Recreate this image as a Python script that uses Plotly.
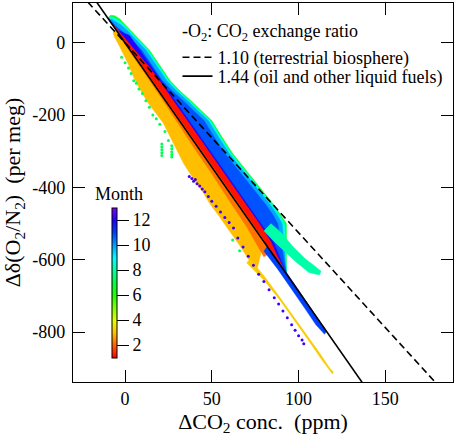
import plotly.graph_objects as go
from plotly.colors import sample_colorscale

# rainbow colour table, month 1 (red) -> 13 (violet)
RAINBOW = ["rgb(255,0,0)", "rgb(255,96,0)", "rgb(255,191,0)", "rgb(223,255,0)",
           "rgb(128,255,0)", "rgb(32,255,0)", "rgb(0,255,64)", "rgb(0,255,159)",
           "rgb(0,255,255)", "rgb(0,159,255)", "rgb(0,64,255)", "rgb(32,0,255)",
           "rgb(128,0,255)"]
CMIN, CMAX = 1, 13
colorscale = [[i / (len(RAINBOW) - 1), c] for i, c in enumerate(RAINBOW)]

FONT = "Times New Roman, Liberation Serif, serif"

# exchange ratios for the reference lines, O2 mole fraction of air
RATIOS = [1.10, 1.44]
RATIO_NAMES = ["1.10 (terrestrial biosphere)", "1.44 (oil and other liquid fuels)"]
RATIO_DASH = ["7px,4px", "solid"]
RATIO_LEGEND = ["legend", "legend2"]
X_O2 = 0.2095
LINE_X = [-30, 190]

# axis ticks
X_TICKS = [0, 50, 100, 150]
Y_TICKS = [-800, -600, -400, -200, 0]
CB_TICKS = [2, 4, 6, 8, 10, 12]

# outlines of the dense point cloud, upper side, top-left -> bottom-right
green_x = [-8.5, -6, -3, 0, 3, 8, 14, 20, 26, 32, 38, 44, 50, 56, 62, 68, 74, 80, 86, 90, 93]
green_y = [76, 75, 66, 50, 35, 10, -20, -62, -105, -135, -160, -188, -215, -262, -306, -342, -378, -414, -450, -478, -500]
cyan_x = [-8.5, -6.5, -3.8, -0.8, 2.2, 7.2, 13.2, 19.2, 25.2, 31.2, 37.2, 43.2, 49.2, 55.2, 61.2, 67.2, 73.2, 79.2, 85.2, 89.2, 92]
cyan_y = [72, 70, 62, 50, 35, 10, -20, -62, -105, -135, -160, -188, -215, -262, -306, -342, -378, -414, -450, -478, -500]
lblue_x = [-8, -5.5, -2.5, 1, 6, 12, 18, 24, 30, 36, 42, 48, 54, 60, 66, 72, 78, 84, 88, 90.5]
lblue_y = [66, 58, 50, 35, 10, -20, -62, -105, -135, -160, -188, -215, -262, -306, -342, -378, -414, -450, -478, -500]
blue_x = [-7.5, -5, -2.5, 3.5, 9.5, 15.5, 21.5, 27.5, 33.5, 39.5, 45.5, 51.5, 57.5, 63.5, 69.5, 75.5, 81.5, 85.5, 88]
blue_y = [58, 44, 35, 10, -20, -62, -105, -135, -160, -188, -215, -262, -306, -342, -378, -414, -450, -478, -500]
dblue_x = [-7, -4.5, 2.6, 5.5, 12.8, 20.1, 27.3, 34.6, 41.9, 49.2, 56.4, 63.7, 71, 78.3, 85.5]
dblue_y = [48, 35, 20, 0, -50, -100, -150, -200, -250, -300, -350, -400, -450, -500, -550]
red_x = [12.7, 19.1, 26.3, 33.6, 40.9, 48.2, 55.4, 62.7, 70, 77.3, 84, 87.2]
red_y = [-60, -100, -150, -200, -250, -300, -350, -400, -450, -500, -550, -585]
# cloud boundary running along the 1.44 line, bottom-right -> top-left
edge_x = [93, 86, 80, 70, 60, 50, 40, 30, 20, 10, 0, -5, -8, -10]
edge_y = [-639, -591, -550, -481, -412, -344, -275, -206, -137, -69, 0, 34, 55, 69]

# lower side of the cloud (closed outlines)
yellow_x = [-5.5, 0, 10, 20, 30, 40, 50, 60, 70, 80,
            76, 72, 66, 60, 54, 49, 45, 40, 34, 30, 26, 22, 18, 13.5, 9, 5, 2, -1, -4, -6, -7]
yellow_y = [36, 3, -66, -134, -203, -272, -341, -409, -478, -547,
            -628, -605, -560, -518, -478, -446, -414, -380, -336, -298, -262, -222, -196, -168, -132, -96, -60, -30, -2, 15, 28]
orange_x = [-4, 0, 10, 20, 30, 40, 50, 60, 70, 80, 84, 80, 70, 60, 50, 40, 30, 20, 10, 0, -4]
orange_y = [28, 0, -69, -137, -206, -275, -344, -412, -481, -550, -580, -592, -508, -436, -362, -292, -218, -146, -75, -5, 23]

# tails
ctail_x = [84, 90, 97, 104, 110, 113, 112, 106, 99, 92, 86, 80]
ctail_y = [-500, -525, -565, -598, -620, -632, -642, -635, -608, -578, -550, -520]
btail_x = [82, 90, 98, 106, 112, 116, 115, 110, 104, 96, 88, 80]
btail_y = [-562, -614, -670, -726, -770, -798, -806, -780, -737, -681, -626, -576]
ytail_x = [72, 80, 88, 96, 104, 112, 118, 120, 119.5, 113, 105, 97, 89, 80, 70]
ytail_y = [-598, -644, -696, -749, -802, -857, -900, -910, -916, -874, -818, -763, -710, -656, -608]

# month value of each filled region
BAND_MONTHS = {"green": 6.6, "cyan": 8.8, "lblue": 9.9, "blue": 10.8, "dblue": 11.9,
               "red": 1.2, "yellow": 3.0, "orange": 2.2, "ctail": 8.1, "btail": 11.0, "ytail": 3.2}

# scattered single points
fringe_x = [-2, 0, 2, 3.5, 5, 6.5, 8, 10, 12, 14, 16, 18, 20, 23, 25, 21.2, 21.2, 21.2, 21.2, 21.2,
            26.9, 26.9, 26.9, 26.9, 26.9, 62, 66]
fringe_y = [-40, -55, -70, -85, -105, -112, -128, -140, -160, -178, -200, -210, -225, -245, -270,
            -280, -288, -296, -304, -312, -285, -293, -301, -309, -316, -545, -575]
fringe_m = [7.2] * len(fringe_x)
purple_x = [37, 38.5, 39.5, 40.5, 41.5, 43, 44.5, 46, 48, 50, 52.5, 55, 57.5, 60, 62.5, 65, 68, 71,
            74, 77, 80, 83, 86, 88.5, 91, 93.5, 96, 98, 100, 102, 103]
purple_y = [-370, -375, -383, -378, -390, -396, -404, -412, -425, -438, -452, -468, -483, -497, -512,
            -540, -565, -590, -615, -640, -660, -683, -705, -722, -742, -760, -780, -795, -810, -822, -832]
purple_m = [12.3] * len(purple_x)


def month_color(m):
    return sample_colorscale(colorscale, [(m - CMIN) / (CMAX - CMIN)])[0]


def patch(xs, ys, month):
    c = month_color(month)
    return go.Scatter(x=xs, y=ys, mode="lines", fill="toself", fillcolor=c,
                      line=dict(width=0.5, color=c), showlegend=False, hoverinfo="skip")


fig = go.Figure()

for name, ux, uy in [("green", green_x, green_y), ("cyan", cyan_x, cyan_y),
                     ("lblue", lblue_x, lblue_y), ("blue", blue_x, blue_y),
                     ("dblue", dblue_x, dblue_y), ("red", red_x, red_y)]:
    fig.add_trace(patch(ux + edge_x, uy + edge_y, BAND_MONTHS[name]))

fig.add_trace(patch(yellow_x, yellow_y, BAND_MONTHS["yellow"]))
fig.add_trace(patch(orange_x, orange_y, BAND_MONTHS["orange"]))
fig.add_trace(patch(ctail_x, ctail_y, BAND_MONTHS["ctail"]))
fig.add_trace(patch(btail_x, btail_y, BAND_MONTHS["btail"]))
fig.add_trace(patch(ytail_x, ytail_y, BAND_MONTHS["ytail"]))

fig.add_trace(go.Scatter(
    x=fringe_x, y=fringe_y, mode="markers", showlegend=False, hoverinfo="skip",
    marker=dict(size=3, color=fringe_m, colorscale=colorscale, cmin=CMIN, cmax=CMAX)))

fig.add_trace(go.Scatter(
    x=purple_x, y=purple_y, mode="markers", showlegend=False, hoverinfo="skip",
    marker=dict(size=3, color=purple_m, colorscale=colorscale, cmin=CMIN, cmax=CMAX,
                showscale=True,
                colorbar=dict(x=0.1026, xanchor="left", xpad=0, y=0.2625, yanchor="middle",
                              ypad=0, len=150, lenmode="pixels", thickness=5,
                              outlinewidth=1, outlinecolor="black",
                              tickvals=CB_TICKS, ticks="outside", ticklen=12, tickwidth=1.2,
                              tickcolor="black", tickfont=dict(family=FONT, size=18)))))

fig.add_annotation(text="Month", xref="paper", yref="paper", x=0.122, y=0.497,
                   xanchor="center", yanchor="middle", showarrow=False, font=dict(size=18))
# legend heading
fig.add_annotation(text="-O<sub>2</sub>: CO<sub>2</sub> exchange ratio", xref="paper", yref="paper",
                   x=0.2816, y=0.921, xanchor="left", yanchor="middle", showarrow=False,
                   font=dict(size=18))

for r, name, dash, leg in zip(RATIOS, RATIO_NAMES, RATIO_DASH, RATIO_LEGEND):
    fig.add_trace(go.Scatter(
        x=LINE_X, y=[-r / X_O2 * v for v in LINE_X], mode="lines", name=name, legend=leg,
        line=dict(color="black", width=1.6, dash=dash), hoverinfo="skip"))

fig.update_xaxes(range=[-30, 189], tickmode="array", tickvals=X_TICKS,
                 ticktext=[str(v) for v in X_TICKS], tickfont=dict(family=FONT, size=18),
                 ticks="inside", ticklen=12, tickwidth=1.3, tickcolor="black",
                 showline=True, linewidth=1.3, linecolor="black", mirror="ticks",
                 showgrid=False, zeroline=False,
                 title=dict(text="ΔCO<sub>2</sub> conc. \u00a0(ppm)", standoff=4))
fig.update_yaxes(range=[-938, 110], tickmode="array", tickvals=Y_TICKS,
                 ticktext=[str(v) for v in Y_TICKS], tickfont=dict(family=FONT, size=18),
                 ticks="inside", ticklen=12, tickwidth=1.3, tickcolor="black",
                 showline=True, linewidth=1.3, linecolor="black", mirror="ticks",
                 showgrid=False, zeroline=False, ticklabelstandoff=3,
                 title=dict(text="Δδ(O<sub>2</sub>/N<sub>2</sub>) \u00a0(per meg)", standoff=6))

legend_style = dict(xanchor="left", yanchor="top", bgcolor="rgba(0,0,0,0)",
                    itemwidth=30, font=dict(family=FONT, size=18))
fig.update_layout(
    width=455, height=437,
    margin=dict(l=73, r=2, t=3, b=55),
    paper_bgcolor="white", plot_bgcolor="white",
    font=dict(family=FONT, size=18, color="black"),
    legend=dict(x=0.275, y=0.905, **legend_style),
    legend2=dict(x=0.275, y=0.855, **legend_style),
)

# drop the page's default body margin so the figure sits at the window's corner
fig.write_html("out.html", config={"displayModeBar": False},
               post_script="document.body.style.margin = '0px';")
